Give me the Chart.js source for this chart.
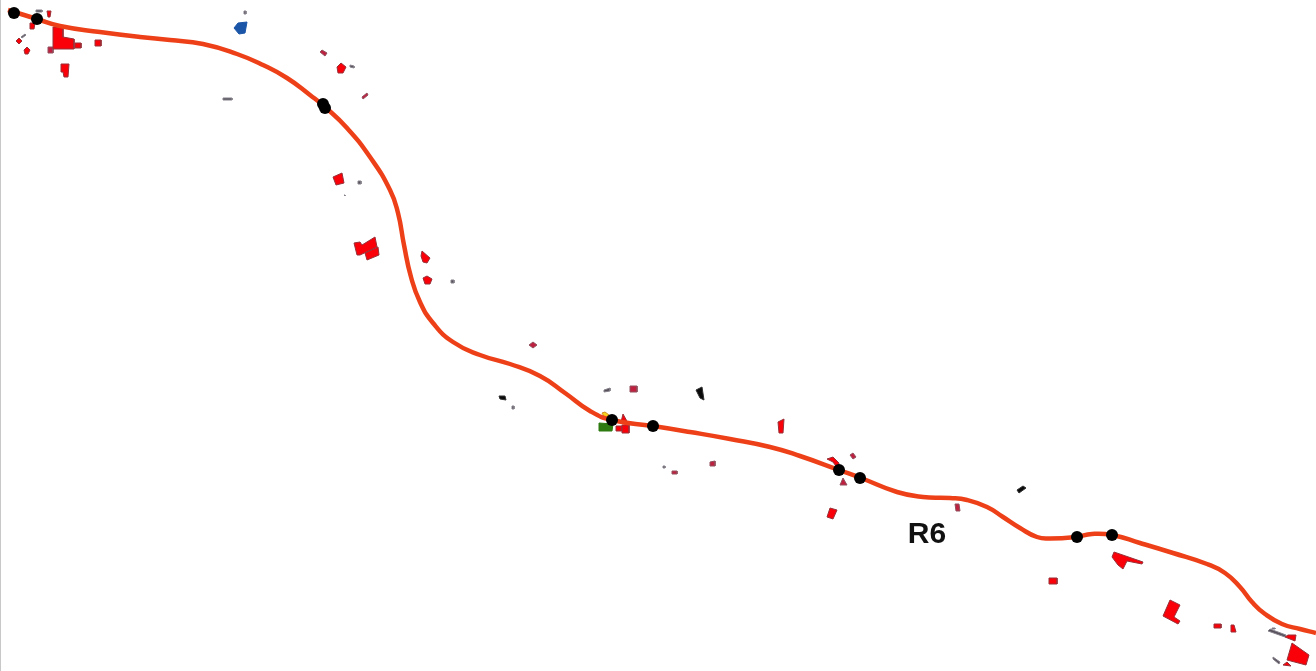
<!DOCTYPE html>
<html>
<head>
<meta charset="utf-8">
<title>R6</title>
<script src="https://cdn.jsdelivr.net/npm/chart.js@4"></script>
<style>
    body { margin: 0; background: #fff; overflow: hidden; }
    canvas { display: block; filter: blur(0.5px); }
</style>
</head>
<body>
<canvas id="myChart" width="1316" height="671"></canvas>
<script>
const road = [[8,10],[37,19],[60,26],[100,32],[140,37],[170,40],[203,44],[237,54],[263,65],[287,78],[310,95],[325,107],[347,128],[370,157],[390,190],[398,213],[404,245],[411,277],[420,302],[433,323],[453,342],[480,355],[510,364],[540,376],[565,393],[590,411],[612,420],[653,426],[690,432],[730,439],[770,447],[800,456],[839,470],[861,478],[897,492],[923,497],[950,498],[967,500],[987,507],[1003,517],[1020,528],[1037,537],[1050,538.5],[1076,537],[1092,534],[1112,535],[1140,543],[1173,553],[1207,564],[1225,573],[1240,587],[1252,602],[1265,614],[1282,624],[1300,629],[1316,633]]

const stops = [[14,13],[37,19],[323,104],[325,108],[612,420],[653,426],[839,470],[860,478],[1077,537],[1112,535]]

const redBuildings = [
    [[53,27],[63,27],[63,37],[74,39],[74,49],[53,49]],
    [[75,43],[81,43],[81,48],[75,48]],
    [[95,40],[101,40],[101,46],[95,46]],
    [[61,64],[69,64],[68,77],[64,77],[63,72],[61,72]],
    [[30,23],[35,23],[34,29],[30,29]],
    [[47,11],[51,11],[50,17],[48,17]],
    [[16,41],[19,38],[22,41],[19,44]],
    [[24,50],[27,47],[30,50],[28,54],[25,54]],
    [[337,67],[341,63],[346,67],[343,73],[338,73]],
    [[333,177],[342,173],[344,183],[336,185]],
    [[354,243],[360,242],[362,245],[375,237],[377,247],[360,255],[357,255]],
    [[365,253],[378,247],[379,255],[367,260]],
    [[421,256],[422,251],[430,258],[427,263],[423,262]],
    [[423,278],[427,276],[432,279],[430,284],[425,284]],
    [[621,422],[623,414],[628,423]],
    [[622,425],[629,425],[629,433],[622,433]],
    [[616,426],[622,426],[622,431],[616,431]],
    [[778,422],[784,419],[783,433],[779,433]],
    [[827,459],[833,457],[839,463],[838,469],[833,462]],
    [[827,517],[830,508],[837,510],[833,519]],
    [[1112,557],[1114,552],[1143,562],[1142,564],[1127,561],[1123,569],[1118,565]],
    [[1049,578],[1057,578],[1057,584],[1049,584]],
    [[1170,600],[1180,605],[1174,617],[1180,621],[1178,624],[1163,616]],
    [[1231,625],[1234,625],[1236,632],[1231,632]],
    [[1214,624],[1221,624],[1221,628],[1214,628]],
    [[1285,637],[1288,635],[1296,635],[1295,641]],
    [[1292,643],[1309,655],[1306,665],[1287,660]],
    [[1283,665],[1287,662],[1291,666]]
]

const duskyBuildings = [
    [[48,47],[53,47],[53,53],[48,53]],
    [[320,52],[322,50],[327,53],[325,56]],
    [[362,97],[367,93],[368,95],[363,99]],
    [[529,345],[533,342],[537,345],[533,348]],
    [[630,386],[637,386],[637,392],[630,392]],
    [[710,462],[715,461],[715,466],[710,466]],
    [[850,455],[853,453],[856,457],[853,459]],
    [[840,485],[843,478],[847,485]],
    [[955,504],[959,504],[960,511],[956,511]],
    [[672,471],[677,471],[677,474],[672,474]]
]

const greyBuildings = [
    [[21,37],[25,34],[26,35],[22,38]],
    [[36,10],[42,10],[42,12],[36,12]],
    [[244,11],[246,11],[246,14],[244,14]],
    [[223,98],[232,98],[232,100],[223,100]],
    [[350,65],[354,66],[354,68],[350,67]],
    [[358,181],[361,181],[361,184],[358,184]],
    [[344,195],[345,195],[345,196]],
    [[451,280],[454,280],[454,283],[451,283]],
    [[512,406],[514,406],[514,409],[512,409]],
    [[604,390],[610,388],[610,391],[604,392]],
    [[663,466],[665,466],[665,468],[663,468]],
    [[1268,631],[1270,629],[1286,635],[1285,637]],
    [[1272,628],[1275,628],[1275,629],[1272,629]],
    [[1273,657],[1280,662],[1279,664],[1273,659]]
]

const blackBuildings = [
    [[499,396],[505,396],[506,400],[500,399]],
    [[696,390],[702,387],[704,400],[700,398]],
    [[1017,490],[1023,486],[1026,488],[1019,493]]
]

const blueBuildings = [
    [[234,28],[238,23],[247,22],[245,33],[239,34]]
]

const greenBuildings = [
    [[599,423],[613,424],[612,431],[599,431]]
]

const yellowBuildings = [
    [[602,413],[605,412],[609,415],[605,418]]
]

const frameLine = [[0.5,0],[0.5,671]]

const placeLabels = ['R6']
const placeLabelSpots = [[927,535]]

const toPoints = (list) => list.map(p => ({ x: p[0], y: p[1] }))

// every building is a closed shape on its own dataset
const buildingSets = (list, fillColor, lineColor) => list.map(shape => ({
    data: toPoints([...shape, shape[0]]),
    showLine: true,
    fill: 'shape',
    backgroundColor: fillColor,
    borderColor: lineColor,
    borderWidth: 1,
    pointRadius: 0,
    tension: 0,
    order: 3
}))

const datasets = [
    ...buildingSets(redBuildings, '#fa0008', '#983038'),
    ...buildingSets(duskyBuildings, '#c02040', '#90505c'),
    ...buildingSets(greyBuildings, '#55505a', '#85808a'),
    ...buildingSets(blackBuildings, '#0a0a0a', '#303030'),
    ...buildingSets(blueBuildings, '#1a55a8', '#1a55a8'),
    ...buildingSets(greenBuildings, '#2c7a10', '#2c7a10'),
    ...buildingSets(yellowBuildings, '#f6d21a', '#d09020'),
    {
        data: toPoints(frameLine),
        showLine: true,
        borderColor: '#c8c8c8',
        borderWidth: 1,
        pointRadius: 0,
        order: 4
    },
    {
        data: toPoints(road),
        showLine: true,
        borderColor: '#ee4018',
        borderWidth: 4.5,
        pointRadius: 0,
        tension: 0.5,
        order: 2
    },
    {
        data: toPoints(stops),
        showLine: false,
        backgroundColor: '#000',
        borderColor: '#000',
        borderWidth: 0,
        pointRadius: 6,
        order: 1
    }
]

const labelPlugin = {
    id: 'placeLabels',
    afterDatasetsDraw(chart) {
        const { ctx, scales } = chart
        ctx.save()
        ctx.font = 'bold 30px "Liberation Sans"'
        ctx.fillStyle = '#111'
        ctx.textAlign = 'center'
        ctx.textBaseline = 'middle'
        placeLabels.forEach((text, i) => {
            const spot = placeLabelSpots[i]
            ctx.fillText(text, scales.x.getPixelForValue(spot[0]), scales.y.getPixelForValue(spot[1]))
        })
        ctx.restore()
    }
}

new Chart(document.getElementById('myChart'), {
    type: 'scatter',
    data: { datasets },
    plugins: [labelPlugin],
    options: {
        responsive: false,
        animation: false,
        layout: { padding: 0, autoPadding: false },
        plugins: { legend: { display: false }, tooltip: { enabled: false } },
        scales: {
            x: { type: 'linear', min: 0, max: 1316, display: false },
            y: { type: 'linear', min: 0, max: 671, reverse: true, display: false }
        }
    }
})
</script>
</body>
</html>
